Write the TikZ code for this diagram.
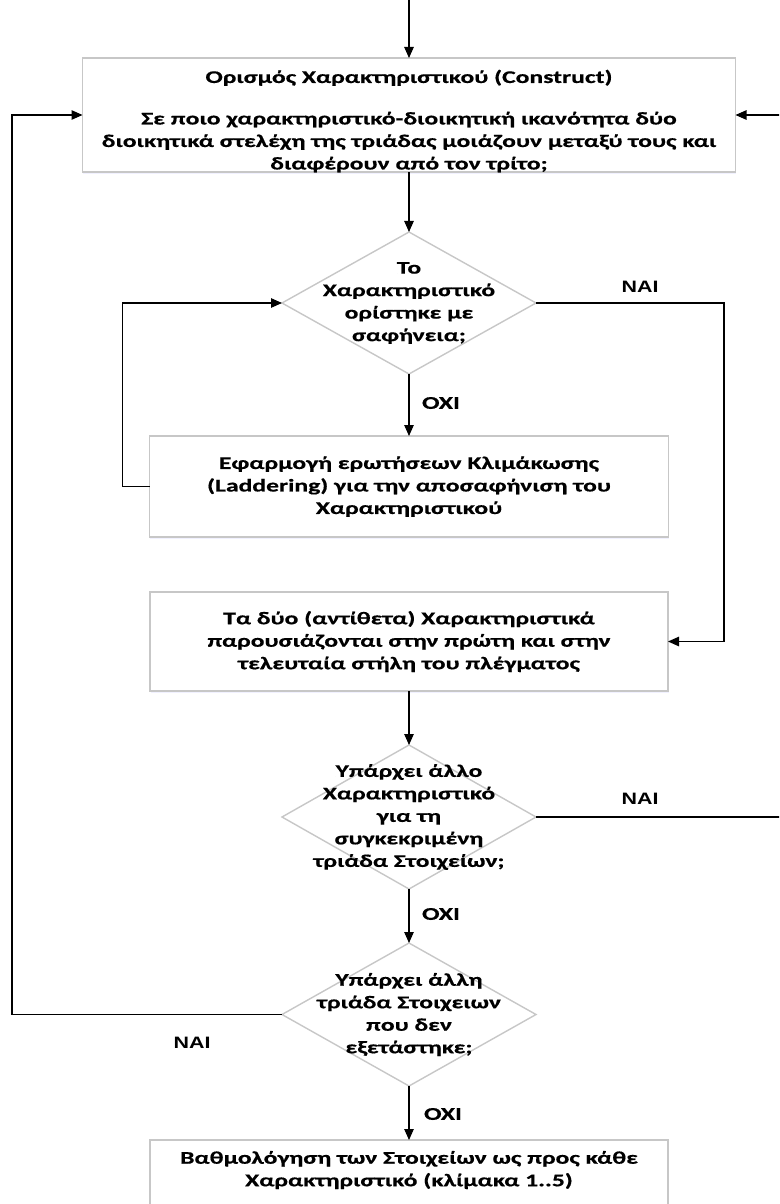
\documentclass[tikz,border=0pt]{standalone}
\usepackage{fontspec}
\setmainfont{Carlito}[FakeStretch=1.44, BoldFeatures={FakeBold=0.5}]
\newfontfamily\naifont{Liberation Sans}[FakeStretch=1.3]
\usetikzlibrary{shapes.geometric,arrows.meta,shadows}
\begin{document}
\begin{tikzpicture}[x=1pt,y=-1pt,
  shapebase/.style={draw=black!22, line width=1.4pt, fill=white, inner sep=0pt, outer sep=0pt},
  box/.style={shapebase, rectangle,
    drop shadow={shadow xshift=0.8pt, shadow yshift=-2.2pt, opacity=0.22, fill=blue!25}},
  dia/.style={shapebase, diamond},
  txt/.style={font=\bfseries\fontsize{17.8}{22.5}\selectfont, align=center, text=black},
  arr/.style={line width=1.1pt, -{Triangle[length=11pt,width=9.5pt]}},
  yeslbl/.style={font=\naifont\bfseries\fontsize{16.5}{19}\selectfont},
  nolbl/.style={font=\bfseries\fontsize{18}{22.5}\selectfont}
]
\useasboundingbox (0,0) rectangle (779,1204);
\clip (0,0) rectangle (779,1204);

% boxes and decisions
\node[box, minimum width=653pt, minimum height=114pt,
  label={[txt, yshift=-6pt]center:{Ορισμός Χαρακτηριστικού (Construct)\\[19pt]
  Σε ποιο χαρακτηριστικό-διοικητική ικανότητα δύο\\
  διοικητικά στελέχη της τριάδας μοιάζουν μεταξύ τους και\\
  διαφέρουν από τον τρίτο;}}] (top) at (409,115) {};

\node[dia, minimum width=254pt, minimum height=142pt,
  label={[txt]center:{Το\\Χαρακτηριστικό\\ορίστηκε με\\σαφήνεια;}}] (d1) at (409,303) {};

\node[box, minimum width=519pt, minimum height=101pt,
  label={[txt]center:{Εφαρμογή ερωτήσεων Κλιμάκωσης\\
  (Laddering) για την αποσαφήνιση του\\Χαρακτηριστικού}}] (box2) at (409,486.5) {};

\node[box, minimum width=518pt, minimum height=99pt,
  label={[txt]center:{Τα δύο (αντίθετα) Χαρακτηριστικά\\
  παρουσιάζονται στην πρώτη και στην\\τελευταία στήλη του πλέγματος}}] (box3) at (409,641.5) {};

\node[dia, minimum width=254pt, minimum height=144pt,
  label={[txt]center:{Υπάρχει άλλο\\Χαρακτηριστικό\\για τη\\συγκεκριμένη\\τριάδα Στοιχείων;}}] (d2) at (409,817) {};

\node[dia, minimum width=254pt, minimum height=143pt,
  label={[txt]center:{Υπάρχει άλλη\\τριάδα Στοιχειων\\που δεν\\εξετάστηκε;}}] (d3) at (409,1014.5) {};

\node[box, minimum width=518pt, minimum height=100pt,
  label={[txt, yshift=20pt]center:{Βαθμολόγηση των Στοιχείων ως προς κάθε\\
  Χαρακτηριστικό (κλίμακα 1..5)}}] (box4) at (409,1190) {};

% connector labels
\node[yeslbl] (yes1) at (640,287) {ΝΑΙ};
\node[nolbl] (no1) at (441,403) {ΟΧΙ};
\node[yeslbl] (yes2) at (640,799) {ΝΑΙ};
\node[nolbl] (no2) at (441,914) {ΟΧΙ};
\node[yeslbl] (yes3) at (192,1043) {ΝΑΙ};
\node[nolbl] (no3) at (443,1114) {ΟΧΙ};

% connectors
\coordinate (entry) at (409,-5);
\draw[arr] (entry) -- (top);
\draw[arr] (top) -- (d1);
\draw[arr] (d1.east) -- ++(188,0) |- (box3.east);
\draw[arr] (d1) -- (box2);
\draw[arr] (box2.west) -- ++(-27,0) |- (d1.west);
\draw[arr] (box3) -- (d2);
\draw[arr] (d2.east) -- ++(270,0) |- (top.east);
\draw[arr] (d2) -- (d3);
\draw[arr] (d3.west) -- ++(-270,0) |- (top.west);
\draw[arr] (d3) -- (box4);
\end{tikzpicture}
\end{document}
